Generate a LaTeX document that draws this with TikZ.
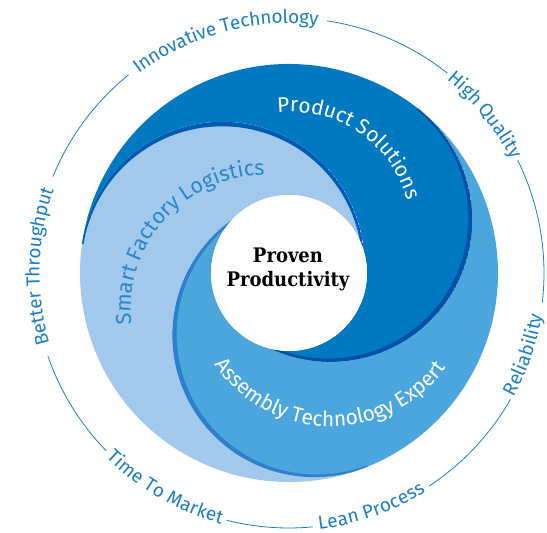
\documentclass[tikz,border=0pt]{standalone}
\usepackage{fontspec}
\setsansfont{Fira Sans}
\newfontfamily\slabfont{DejaVu Serif}[FakeStretch=0.9]
\usetikzlibrary{calc,decorations.text}
\definecolor{darkarm}{RGB}{0,121,193}
\definecolor{medarm}{RGB}{75,166,221}
\definecolor{lightarm}{RGB}{162,200,235}
\definecolor{darkband}{RGB}{0,80,165}
\definecolor{medband}{RGB}{46,128,205}
\definecolor{lightband}{RGB}{0,92,178}
\definecolor{ringblue}{RGB}{28,126,198}
\definecolor{logblue}{RGB}{40,135,205}
\newcommand\ringfont{\sffamily\fontsize{19}{19}\selectfont}
\newcommand\armfont{\sffamily\fontsize{21}{21}\selectfont}
\newcommand\armfontb{\sffamily\fontsize{21.5}{21.5}\selectfont}
\def\armpath#1{($(O)+(#1+120:209)$) arc[start angle=#1+120,end angle=#1,radius=209]
  arc[start angle=#1,end angle=#1-166.59,radius=141.8]
  arc[start angle=#1-155.07,end angle=#1-35.07,radius=78]
  arc[start angle=#1-46.59,end angle=#1+120,radius=141.8] -- cycle}
\newcommand\armband[2]{%
  \begin{scope}
    \clip \armpath{#1};
    \clip ($(O)+(#1:67.2)$) circle[radius=141.8];
    \clip ($(O)+(#1:67.2)+(#1:500)$) -- ++(#1-90:500) -- ++(#1+180:1000) -- ++(#1+90:500) -- cycle;
    \fill[#2, even odd rule] ($(O)+(#1:67.2)$) circle[radius=141.8]
      ($(O)+(#1:67.2)+(#1+90:3)$) circle[radius=140.3];
  \end{scope}}
\tikzset{
  ringline/.style={draw=ringblue, line width=0.8pt},
  ringtext/.style 2 args={decorate, decoration={text along path, text align=center, raise=#2, text color=ringblue, text={|\ringfont|#1}}},
  armtext/.style n args={3}{decorate, decoration={text along path, text align=center, text color=#2, text={|#3|#1}}},
  centretext/.style={font=\slabfont\bfseries\fontsize{20}{24}\selectfont, text=black, anchor=base, inner sep=0pt}
}
\begin{document}
\begin{tikzpicture}[x=1pt,y=1pt]
\useasboundingbox (0,0) rectangle (547,533);
\coordinate (O) at (289,260);
% arms
\fill[darkarm] \armpath{52};
\fill[medarm] \armpath{-68};
\fill[lightarm] \armpath{172};
\armband{52}{darkband}
\armband{-68}{medband}
\armband{172}{lightband}
% centre
\fill[white] (O) circle[radius=78];
\node[centretext] (proven) at (288,270) {Proven};
\node[centretext] (productivity) at (288,246) {Productivity};
% arm texts
\coordinate (PSc) at (291,300);
\coordinate (SFc) at (265.7,223);
\coordinate (AEc) at (331.5,247.8);
\path[armtext={Product Solutions}{white}{\armfont}] ($(PSc)+(126:121)$) arc[start angle=126,end angle=-14,radius=121];
\path[armtext={Smart Factory Logistics}{logblue}{\armfontb}] ($(SFc)+(208.3:135)$) arc[start angle=208.3,end angle=68.3,radius=135];
\path[armtext={Assembly Technology Expert}{white}{\armfont}] ($(AEc)+(194.2:141.3)$) arc[start angle=194.2,end angle=344.2,radius=141.3];
% ring lines
\draw[ringline] ($(O)+(81.4:255)$) arc[start angle=81.4,end angle=51.6,radius=255];
\draw[ringline] ($(O)+(26.2:255)$) arc[start angle=26.2,end angle=-6.7,radius=255];
\draw[ringline] ($(O)+(-29.7:255)$) arc[start angle=-29.7,end angle=-56.6,radius=255];
\draw[ringline] ($(O)+(-84.7:255)$) arc[start angle=-84.7,end angle=-104.1,radius=255];
\draw[ringline] ($(O)+(224.2:255)$) arc[start angle=224.2,end angle=199,radius=255];
\draw[ringline] ($(O)+(157.8:255)$) arc[start angle=157.8,end angle=129,radius=255];
% ring texts
\path[ringtext={Innovative Technology}{-5.5pt}] ($(O)+(165.2:255)$) arc[start angle=165.2,end angle=45.2,radius=255];
\path[ringtext={High Quality}{-5.5pt}] ($(O)+(78.9:255)$) arc[start angle=78.9,end angle=-1.1,radius=255];
\path[ringtext={Reliability}{-1.5pt}] ($(O)+(-59.2:255)$) arc[start angle=-59.2,end angle=20.8,radius=255];
\path[ringtext={Lean Process}{-3pt}] ($(O)+(-110.65:255)$) arc[start angle=-110.65,end angle=-30.65,radius=255];
\path[ringtext={Time To Market}{-5pt}] ($(O)+(200.05:255)$) arc[start angle=200.05,end angle=280.05,radius=255];
\path[ringtext={Better Throughput}{-5.5pt}] ($(O)+(228.4:255)$) arc[start angle=228.4,end angle=128.4,radius=255];
\end{tikzpicture}
\end{document}
